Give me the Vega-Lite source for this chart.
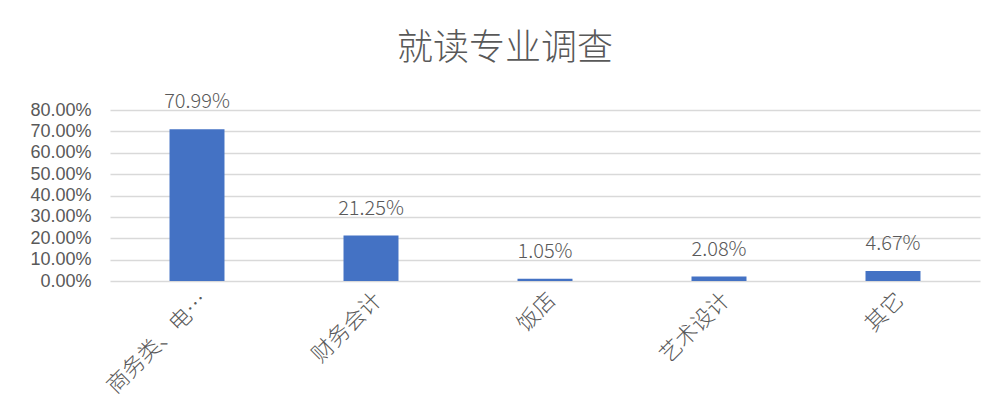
{
  "$schema": "https://vega.github.io/schema/vega-lite/v6.json",
  "autosize": "none",
  "width": 870,
  "height": 171,
  "padding": {"left": 110, "top": 110, "right": 21, "bottom": 135},
  "background": "white",
  "title": {
    "text": "就读专业调查",
    "font": "Noto Sans CJK SC",
    "fontSize": 36,
    "fontWeight": 300,
    "color": "#595959",
    "anchor": "middle",
    "frame": "bounds",
    "offset": 24
  },
  "config": {
    "view": {"stroke": null},
    "axis": {"labelFont": "Noto Sans CJK SC", "labelColor": "#595959", "labelFontWeight": 300}
  },
  "data": {
    "values": [
      {"专业": "商务类、电…", "占比": 0.7099},
      {"专业": "财务会计", "占比": 0.2125},
      {"专业": "饭店", "占比": 0.0105},
      {"专业": "艺术设计", "占比": 0.0208},
      {"专业": "其它", "占比": 0.0467}
    ]
  },
  "encoding": {
    "x": {
      "field": "专业",
      "type": "nominal",
      "sort": null,
      "scale": {"paddingInner": 0.684, "paddingOuter": 0.342},
      "axis": {
        "title": null,
        "labelAngle": -45,
        "labelFontSize": 22,
        "labelPadding": 8,
        "ticks": false,
        "domain": false,
        "labelLimit": 200,
        "labelOverlap": false
      }
    },
    "y": {
      "field": "占比",
      "type": "quantitative",
      "scale": {"domain": [0, 0.8]},
      "axis": {
        "title": null,
        "format": ".2%",
        "values": [0, 0.1, 0.2, 0.3, 0.4, 0.5, 0.6, 0.7, 0.8],
        "labelFont": "Liberation Sans",
        "labelFontWeight": "normal",
        "labelFontSize": 18,
        "labelPadding": 19,
        "labelOverlap": false,
        "ticks": false,
        "domain": false,
        "gridColor": "#d9d9d9",
        "gridWidth": 1.5
      }
    }
  },
  "layer": [
    {"mark": {"type": "bar", "color": "#4472C4"}},
    {
      "mark": {"type": "text", "baseline": "bottom", "dy": -17, "font": "Noto Sans CJK SC", "fontWeight": 300, "fontSize": 20, "color": "#595959"},
      "encoding": {"text": {"field": "占比", "type": "quantitative", "format": ".2%"}}
    }
  ]
}
